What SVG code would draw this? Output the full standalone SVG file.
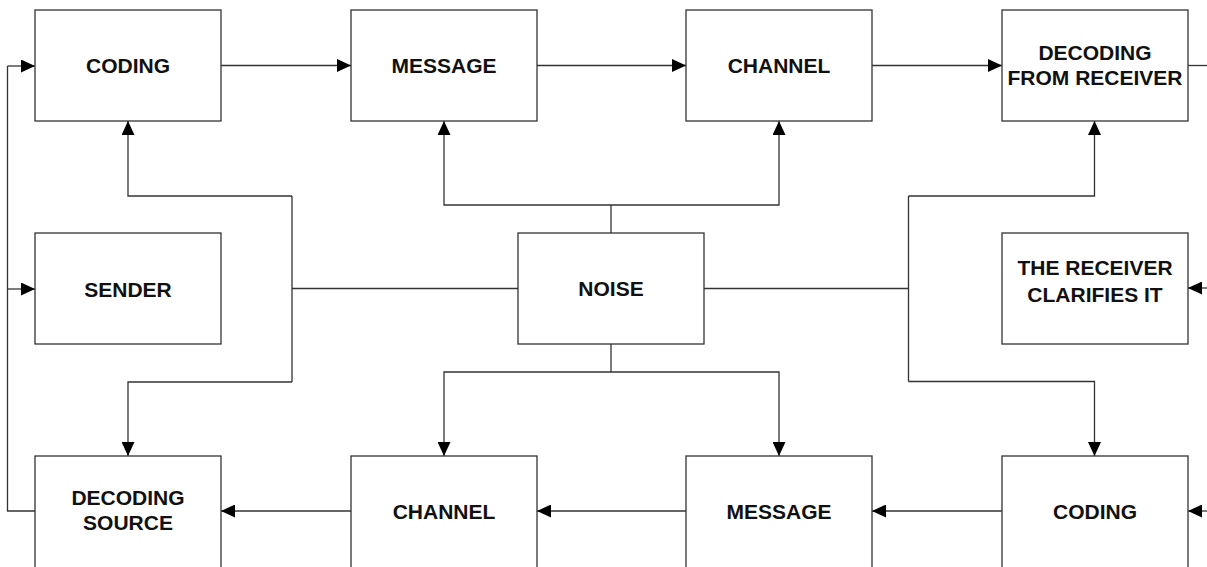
<svg xmlns="http://www.w3.org/2000/svg" width="1207" height="567" viewBox="0 0 1207 567">
<style>
.box{fill:#fff;stroke:#333;stroke-width:1.3}
.lbl{font-family:"Liberation Sans",Arial,sans-serif;font-weight:bold;font-size:21px;fill:#111;text-anchor:middle}
.ln{fill:none;stroke:#333;stroke-width:1.3}
.ar{marker-end:url(#ah)}
</style>
<defs>
<marker id="ah" viewBox="0 0 14 13" refX="14" refY="6.5" markerWidth="14" markerHeight="13" markerUnits="userSpaceOnUse" orient="auto">
<path d="M0,0 L14,6.5 L0,13 Z" fill="#000"/>
</marker>
</defs>
<rect width="1207" height="567" fill="#fff"/>
<g id="connectors">
<path class="ln ar" d="M221,65.5 H351"/>
<path class="ln ar" d="M537,65.5 H686"/>
<path class="ln ar" d="M872,65.5 H1002"/>
<path class="ln" d="M1188,65.5 H1207"/>
<path class="ln ar" d="M1207,288 H1188"/>
<path class="ln ar" d="M1207,511 H1188"/>
<path class="ln ar" d="M1002,511 H872"/>
<path class="ln ar" d="M686,511 H537"/>
<path class="ln ar" d="M351,511 H221"/>
<path class="ln" d="M35,511 H7.5 V66"/>
<path class="ln ar" d="M7.5,66 H35"/>
<path class="ln ar" d="M7.5,289 H35"/>
<path class="ln" d="M518,288.5 H292 M292,196 V382"/>
<path class="ln ar" d="M292,196 H128 V121"/>
<path class="ln ar" d="M292,382 H128 V456"/>
<path class="ln" d="M704,288.5 H908.5 M908.5,196 V381.5"/>
<path class="ln ar" d="M908.5,196 H1094.5 V121"/>
<path class="ln ar" d="M908.5,381.5 H1094.5 V456"/>
<path class="ln" d="M611,233 V205"/>
<path class="ln ar" d="M611,205 H444 V121"/>
<path class="ln ar" d="M611,205 H779 V121"/>
<path class="ln" d="M611,344 V372"/>
<path class="ln ar" d="M611,372 H444 V456"/>
<path class="ln ar" d="M611,372 H779 V456"/>
</g>
<g id="coding-top"><rect class="box" x="35" y="10" width="186" height="111"/><text class="lbl" x="128" y="73">CODING</text></g>
<g id="message-top"><rect class="box" x="351" y="10" width="186" height="111"/><text class="lbl" x="444" y="73">MESSAGE</text></g>
<g id="channel-top"><rect class="box" x="686" y="10" width="186" height="111"/><text class="lbl" x="779" y="73">CHANNEL</text></g>
<g id="decoding-receiver"><rect class="box" x="1002" y="10" width="186" height="111"/><text class="lbl" x="1095" y="60">DECODING</text><text class="lbl" x="1095" y="84.5">FROM RECEIVER</text></g>
<g id="sender"><rect class="box" x="35" y="233" width="186" height="111"/><text class="lbl" x="128" y="297">SENDER</text></g>
<g id="noise"><rect class="box" x="518" y="233" width="186" height="111"/><text class="lbl" x="611" y="295.5">NOISE</text></g>
<g id="receiver-clarifies"><rect class="box" x="1002" y="233" width="186" height="111"/><text class="lbl" x="1095" y="274.5">THE RECEIVER</text><text class="lbl" x="1095" y="301.5">CLARIFIES IT</text></g>
<g id="decoding-source"><rect class="box" x="35" y="456" width="186" height="112"/><text class="lbl" x="128" y="505">DECODING</text><text class="lbl" x="128" y="530">SOURCE</text></g>
<g id="channel-bottom"><rect class="box" x="351" y="456" width="186" height="112"/><text class="lbl" x="444" y="518.5">CHANNEL</text></g>
<g id="message-bottom"><rect class="box" x="686" y="456" width="186" height="112"/><text class="lbl" x="779" y="518.5">MESSAGE</text></g>
<g id="coding-bottom"><rect class="box" x="1002" y="456" width="186" height="112"/><text class="lbl" x="1095" y="518.5">CODING</text></g>
</svg>
